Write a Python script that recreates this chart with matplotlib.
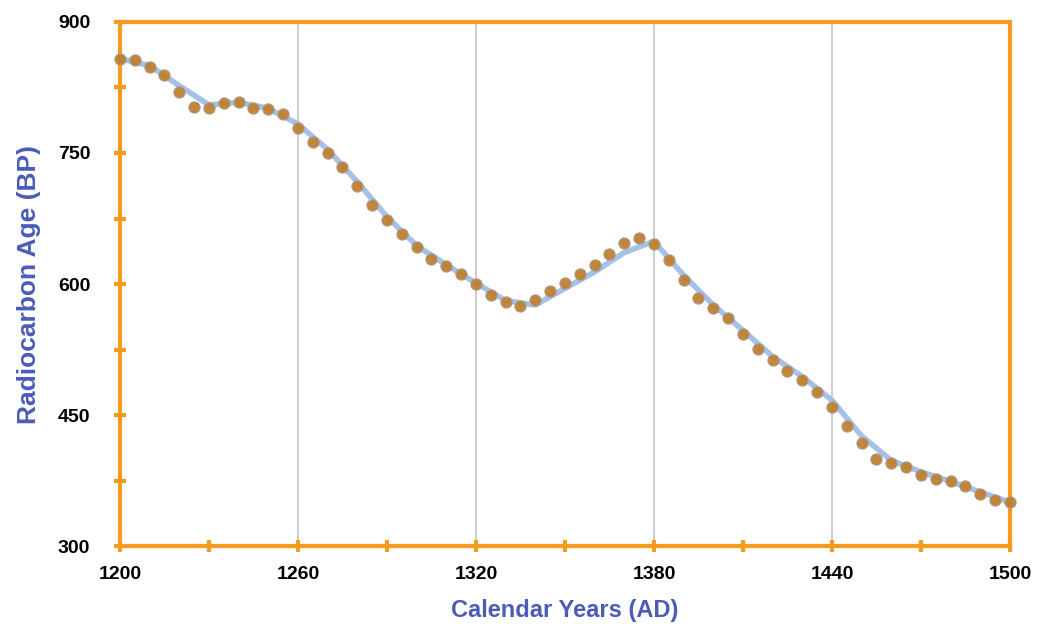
import numpy as np
import matplotlib.pyplot as plt
from matplotlib.ticker import MultipleLocator

# calibration curve (smooth line), every 10 years
line_years = np.arange(1200, 1501, 10)
line_age = [858, 850, 827, 805, 808, 801, 783, 754, 717, 677,
            644, 622, 601, 581, 576, 595, 614, 636, 649, 610,
            576, 547, 517, 494, 467, 426, 398, 385, 374, 362, 350]

# sample points, every 5 years
dot_years = np.arange(1200, 1501, 5)
dot_age = [858, 856, 848, 839, 820, 803, 801, 807, 808, 802,
           800, 795, 779, 763, 750, 734, 712, 690, 673, 657,
           642, 629, 621, 611, 600, 588, 580, 575, 582, 592,
           601, 612, 622, 634, 647, 653, 646, 628, 605, 584,
           572, 561, 543, 526, 513, 501, 490, 476, 459, 438,
           418, 400, 395, 390, 381, 377, 374, 369, 360, 353, 350]

orange = "#f39c1f"
label_blue = "#4b5cb8"

plt.rcParams['font.family'] = ['Liberation Sans', 'DejaVu Sans']

fig = plt.figure(figsize=(10.38, 6.27), dpi=100)
ax = fig.add_axes([0.1156, 0.129, 0.8574, 0.836])

ax.plot(line_years, line_age, color="#a6c1e6", lw=4, solid_capstyle="round",
        solid_joinstyle="round", zorder=2)
ax.plot(dot_years, dot_age, ls="none", marker="o", ms=8,
        mfc="#c0802f", mec="#a89a86", mew=0.9, alpha=0.95, zorder=3,
        clip_on=False)

ax.set_xlim(1200, 1500)
ax.set_ylim(300, 900)

ax.xaxis.set_major_locator(MultipleLocator(60))
ax.xaxis.set_minor_locator(MultipleLocator(30))
ax.yaxis.set_major_locator(MultipleLocator(150))
ax.yaxis.set_minor_locator(MultipleLocator(75))

ax.grid(axis="x", which="major", color="#c4c4c4", lw=1.2, zorder=0)

for s in ax.spines.values():
    s.set_color(orange)
    s.set_linewidth(3)

ax.tick_params(axis="both", which="both", direction="inout", color=orange,
               width=3, length=9, labelsize=14)
ax.tick_params(axis="x", which="major", pad=10)
ax.tick_params(axis="y", which="major", pad=17)
ax.tick_params(right=False, top=False)
for lbl in ax.get_xticklabels() + ax.get_yticklabels():
    lbl.set_fontweight("bold")

ax.set_xlabel("Calendar Years (AD)", color=label_blue, fontsize=17,
              fontweight="bold", labelpad=11)
ax.set_ylabel("Radiocarbon Age (BP)", color=label_blue, fontsize=19,
              fontweight="bold", labelpad=12)

fig.savefig("out.png", dpi=100)
